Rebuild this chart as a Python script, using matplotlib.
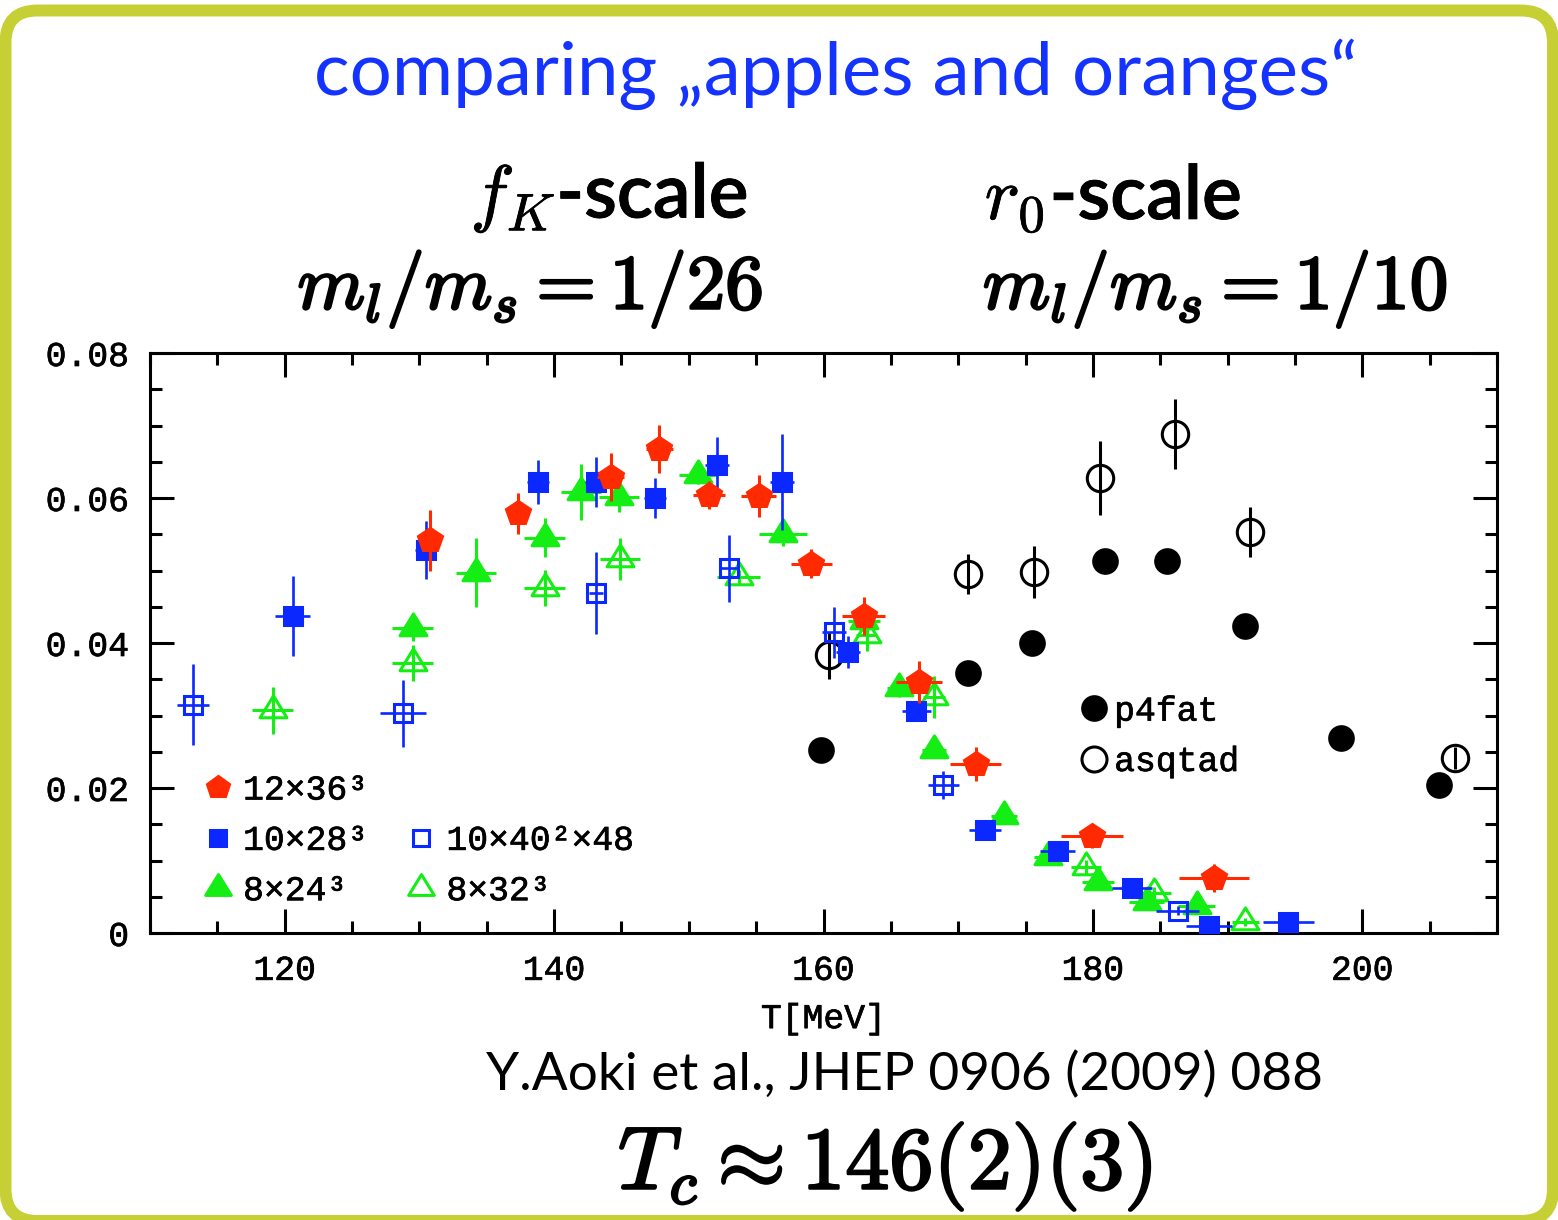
import numpy as np
import matplotlib
matplotlib.use("Agg")
import matplotlib.pyplot as plt
from matplotlib.lines import Line2D
from matplotlib.patches import FancyBboxPatch
from matplotlib.path import Path
from matplotlib.transforms import IdentityTransform
from matplotlib.ticker import MultipleLocator
from matplotlib.font_manager import FontProperties
import matplotlib.patheffects as pe

plt.rcParams['mathtext.fontset'] = 'cm'

# ---------------- data: chiral susceptibility vs temperature ----------------
# 12x36^3 (fK scale)
T_12 = [130.8, 137.3, 144.2, 147.8, 151.5, 155.2, 159.1, 163.0, 167.1, 171.3, 179.9, 189.0]
chi_12 = [0.0542, 0.0579, 0.0629, 0.0668, 0.0604, 0.0603, 0.0509, 0.0437, 0.0346, 0.0233, 0.0134, 0.0076]
dchi_12 = [0.0042, 0.0028, 0.0033, 0.0033, 0.0019, 0.0029, 0.0020, 0.0026, 0.0029, 0.0023, 0.0017, 0.0019]
dT_12 = [0.8, 0.8, 1.0, 1.0, 1.2, 1.3, 1.5, 1.6, 1.7, 1.9, 2.3, 2.6]

# 10x28^3
T_10 = [120.6, 130.5, 138.8, 143.1, 147.5, 152.1, 156.9, 161.8, 166.9, 172.0, 177.4, 182.9, 188.6, 194.5]
chi_10 = [0.0437, 0.0528, 0.0622, 0.0622, 0.0600, 0.0646, 0.0622, 0.0387, 0.0306, 0.0142, 0.0113, 0.0062, 0.0010, 0.0015]
dchi_10 = [0.0055, 0.0040, 0.0030, 0.0035, 0.0027, 0.0038, 0.0066, 0.0022, 0.0010, 0.0008, 0.0012, 0.0008, 0.0006, 0.0006]
dT_10 = [1.3, 0.8, 0.8, 0.8, 0.8, 0.9, 0.9, 0.9, 1.1, 1.2, 1.3, 1.5, 1.7, 1.9]

# 10x40^2x48
T_40 = [113.2, 128.8, 143.1, 153.0, 160.8, 168.9, 186.3]
chi_40 = [0.0315, 0.0303, 0.0469, 0.0503, 0.0415, 0.0204, 0.0031]
dchi_40 = [0.0056, 0.0046, 0.0057, 0.0046, 0.0035, 0.0019, 0.0006]
dT_40 = [1.2, 1.7, 0.5, 0.7, 0.9, 1.15, 1.6]

# 8x24^3
T_8 = [129.5, 134.2, 139.3, 142.0, 144.8, 150.7, 157.0, 163.0, 165.6, 168.2, 173.4, 176.7, 180.4, 184.0, 187.7]
chi_8 = [0.0421, 0.0497, 0.0545, 0.0608, 0.0601, 0.0632, 0.0550, 0.0430, 0.0338, 0.0252, 0.0161, 0.0105, 0.0070, 0.0043, 0.0037]
dchi_8 = [0.0018, 0.0048, 0.0027, 0.0039, 0.0020, 0.0012, 0.0016, 0.0012, 0.0012, 0.0010, 0.0008, 0.0008, 0.0006, 0.0006, 0.0006]
dT_8 = [1.5, 1.5, 1.5, 1.5, 1.5, 1.4, 1.8, 1.2, 0.9, 0.9, 1.0, 1.1, 1.2, 1.3, 1.4]

# 8x32^3
T_32 = [119.1, 129.5, 139.3, 144.9, 153.7, 163.2, 168.2, 179.5, 184.5, 191.3]
chi_32 = [0.0307, 0.0372, 0.0476, 0.0516, 0.0491, 0.0411, 0.0326, 0.0091, 0.0055, 0.0015]
dchi_32 = [0.0032, 0.0025, 0.0025, 0.0029, 0.0010, 0.0022, 0.0029, 0.0010, 0.0008, 0.0006]
dT_32 = [1.5, 1.5, 1.5, 1.5, 1.6, 0.8, 0.8, 1.1, 1.3, 1.0]

# p4fat (r0 scale)
T_p4 = [159.8, 170.7, 175.5, 180.9, 185.5, 191.3, 198.4, 205.7]
chi_p4 = [0.0252, 0.0359, 0.0400, 0.0513, 0.0513, 0.0423, 0.0269, 0.0204]

# asqtad (r0 scale)
T_as = [160.4, 170.7, 175.6, 180.5, 186.1, 191.7, 206.9]
chi_as = [0.0383, 0.0495, 0.0498, 0.0628, 0.0688, 0.0553, 0.0241]
dchi_as = [0.0032, 0.0028, 0.0036, 0.0051, 0.0048, 0.0035, 0.0015]

x_ticks = [120, 140, 160, 180, 200]
y_ticks = [0, 0.02, 0.04, 0.06, 0.08]
y_ticklabels = ['0', '0.02', '0.04', '0.06', '0.08']

# ---------------- styling ----------------
RED = '#ff2a00'
BLUE = '#0a28ff'
GREEN = '#14ee14'
BLACK = '#000000'
FRAME = '#c6cf34'

W, H = 1558, 1220
fig = plt.figure(figsize=(W / 100, H / 100), dpi=100)
fig.patch.set_facecolor('white')

ax = fig.add_axes([150 / W, (H - 933) / H, 1347 / W, 580 / H])

# closed triangle centred on its centroid
tri = Path([(0, 0.667), (-0.615, -0.333), (0.615, -0.333), (0, 0.667)], closed=True)

mono = FontProperties(family='Liberation Mono', size=25)
thick = [pe.withStroke(linewidth=0.5, foreground='black')]

def series(T, v, dv, dT, marker, color, ms, filled, elw, z, mew=2.2):
    ax.errorbar(T, v, yerr=dv, xerr=dT, fmt='none', ecolor=color,
                elinewidth=elw, capsize=0, zorder=z)
    ax.plot(T, v, linestyle='none', marker=marker, markersize=ms,
            color=color, mfc=color if filled else 'none', mec=color,
            mew=mew, zorder=z + 0.5)

series(T_as, chi_as, dchi_as, None, 'o', BLACK, 19, False, 2.2, 2)
series(T_p4, chi_p4, None, None, 'o', BLACK, 17, True, 2.2, 2)
series(T_32, chi_32, dchi_32, dT_32, tri, GREEN, 21, False, 2.2, 3)
series(T_8, chi_8, dchi_8, dT_8, tri, GREEN, 21, True, 2.2, 4)
series(T_40, chi_40, dchi_40, dT_40, 's', BLUE, 13, False, 1.9, 5)
series(T_10, chi_10, dchi_10, dT_10, 's', BLUE, 13, True, 1.9, 6)
series(T_12, chi_12, dchi_12, dT_12, 'p', RED, 18, True, 2.2, 7)

ax.set_xlim(110, 210)
ax.set_ylim(0, 0.08)
ax.set_xticks(x_ticks)
ax.set_yticks(y_ticks)
ax.set_yticklabels(y_ticklabels)
ax.xaxis.set_minor_locator(MultipleLocator(5))
ax.yaxis.set_minor_locator(MultipleLocator(0.005))
ax.tick_params(which='both', direction='in', top=True, right=True, width=2.2, colors='black')
ax.tick_params(which='major', length=17, pad=15)
ax.tick_params(which='minor', length=8.5)
for lab in ax.get_xticklabels() + ax.get_yticklabels():
    lab.set_fontproperties(mono)
    lab.set_path_effects(thick)
for sp in ax.spines.values():
    sp.set_linewidth(2.2)
ax.set_xlabel('T[MeV]', fontproperties=mono, labelpad=11)
ax.xaxis.label.set_path_effects(thick)

# legends
def key(marker, color, ms, filled):
    return Line2D([], [], linestyle='none', marker=marker, markersize=ms, color=color,
                  mfc=color if filled else 'none', mec=color, mew=2.2)

blank = Line2D([], [], linestyle='none')
h_left = [key('p', RED, 16, True), key('s', BLUE, 12, True), key(tri, GREEN, 20, True),
          blank, key('s', BLUE, 12, False), key(tri, GREEN, 20, False)]
l_left = ['12×36³', '10×28³', '8×24³', '', '10×40²×48', '8×32³']
leg1 = ax.legend(h_left, l_left, ncol=2, loc='upper left', bbox_to_anchor=(0.0428, 0.275),
                 frameon=False, prop=mono, handlelength=0.6, handletextpad=0.42,
                 columnspacing=1.23, labelspacing=0.5, borderpad=0, borderaxespad=0)
for t in leg1.get_texts():
    t.set_path_effects(thick)
ax.add_artist(leg1)

h_right = [key('o', BLACK, 17, True), key('o', BLACK, 18, False)]
leg2 = ax.legend(h_right, ['p4fat', 'asqtad'], loc='upper left', bbox_to_anchor=(0.6931, 0.411),
                 frameon=False, prop=mono, handlelength=0.6, handletextpad=0.28,
                 labelspacing=0.5, borderpad=0, borderaxespad=0)
for t in leg2.get_texts():
    t.set_path_effects(thick)

# ---------------- text around the plot ----------------
renderer = fig.canvas.get_renderer()

def fit_text(xc, yc, s, width_px, bold_stroke=0, **kw):
    t = fig.text(xc / W, 1 - yc / H, s, ha='center', va='center', fontsize=40, **kw)
    if bold_stroke:
        t.set_path_effects([pe.withStroke(linewidth=bold_stroke, foreground=kw.get('color', 'black'))])
    w = t.get_window_extent(renderer).width
    t.set_fontsize(40 * width_px / w)
    return t

fit_text(836, 74, 'comparing „apples and oranges“', 1042, color='#1433ff', family='Lato')
fit_text(609, 197, r'$f_K$-scale', 278, bold_stroke=0.6, color='black', family='Lato', weight='semibold')
fit_text(1113, 198, r'$r_0$-scale', 257, bold_stroke=0.6, color='black', family='Lato', weight='semibold')
fit_text(530, 289, r'$m_l/m_s = \mathbf{1/26}$', 466, bold_stroke=1.8, color='black')
fit_text(1215, 289, r'$m_l/m_s = \mathbf{1/10}$', 465, bold_stroke=1.8, color='black')
fit_text(905, 1075, 'Y.Aoki et al., JHEP 0906 (2009) 088', 836, color='black', family='Lato')
fit_text(885, 1166, r'$T_c \approx \mathbf{146(2)(3)}$', 535, bold_stroke=1.8, color='black')

# rounded frame
frame = FancyBboxPatch((5.5, -1), 1547.5, 1210.5, boxstyle='round,pad=0,rounding_size=32',
                       transform=IdentityTransform(), fill=False, edgecolor=FRAME,
                       linewidth=8.6, zorder=10)
fig.patches.append(frame)

fig.savefig('out.png', dpi=100, facecolor='white')
